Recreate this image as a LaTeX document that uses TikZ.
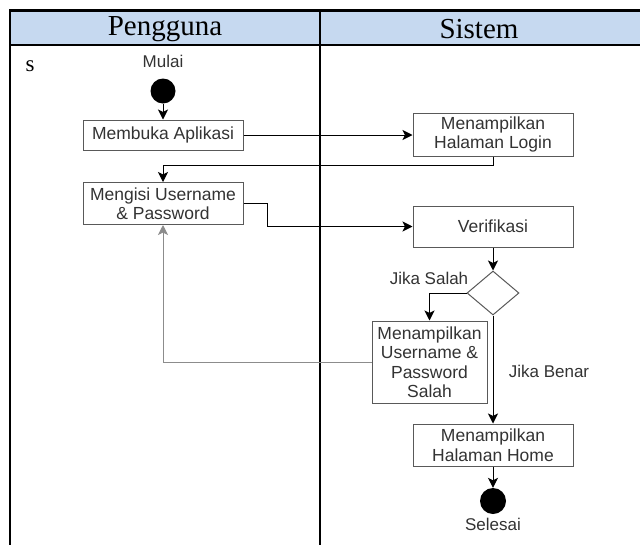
\documentclass[tikz,border=0pt]{standalone}
\usepackage{fontspec}
\setmainfont{Liberation Serif}
\setsansfont{Liberation Sans}
\usetikzlibrary{arrows.meta, shapes.geometric}
\definecolor{kepala}{HTML}{C6D9F0}

\begin{document}
\begin{tikzpicture}[x=1pt, y=-1pt,
        aksi/.style={draw=black!65, line width=1pt, fill=white, align=center,
            inner sep=0pt, text=black!80, font=\sffamily\fontsize{17.5}{19.5}\selectfont},
        keputusan/.style={diamond, draw=black!65, line width=1pt, fill=white,
            inner sep=0pt, minimum width=52pt, minimum height=44pt},
        titik/.style={circle, fill=black, inner sep=0pt, minimum size=25pt},
        label/.style={text=black!80, font=\sffamily\fontsize{17}{19.5}\selectfont},
        alur/.style={line width=1pt, -{Stealth[length=10pt, width=10pt, inset=2.5pt]}},
        kembali/.style={alur, draw=black!45}]
    \useasboundingbox (0,0) rectangle (640,544);

    % Draw the swimlane table (runs off the right and bottom edge)
    \fill[kepala] (10,10) rectangle (645,45);
    \draw[line width=2.5pt] (10,10.5) -- (645,10.5);
    \draw[line width=2.5pt] (10,9.25) -- (10,550);
    \draw[line width=2pt] (10,45) -- (645,45);
    \draw[line width=2pt] (320,10) -- (320,550);
    \node[font=\fontsize{29}{30}\selectfont] (lajur1) at (165,29) {Pengguna};
    \node[font=\fontsize{29}{30}\selectfont] (lajur2) at (479,29) {Sistem};
    \node[font=\fontsize{23}{24}\selectfont] (huruf) at (30,66) {s};

    % Start point
    \node[label] (mulaiteks) at (163,61) {Mulai};
    \node[titik] (mulai) at (163,91) {};

    % Activities of the user
    \node[aksi, minimum width=160pt, minimum height=30pt] (membuka) at (163,135) {Membuka Aplikasi};
    \node[aksi, minimum width=160pt, minimum height=42pt] (mengisi) at (163,203.5) {Mengisi Username\\\& Password};

    % Activities of the system
    \node[aksi, minimum width=160pt, minimum height=43pt] (login) at (493,134.5) {Menampilkan\\Halaman Login};
    \node[aksi, minimum width=160pt, minimum height=41pt] (verifikasi) at (493,226.5) {Verifikasi};
    \node[keputusan] (cek) at (493,293) {};
    \node[aksi, minimum width=115pt, minimum height=82pt] (salah) at (429.5,362) {Menampilkan\\Username \&\\Password\\Salah};
    \node[aksi, minimum width=160pt, minimum height=42pt] (home) at (493,445) {Menampilkan\\Halaman Home};

    % End point
    \node[titik, minimum size=26pt] (selesai) at (493,501) {};
    \node[label] (selesaiteks) at (493,524) {Selesai};

    % Guard labels
    \node[label] (jikasalah) at (429,278) {Jika Salah};
    \node[label] (jikabenar) at (549,371) {Jika Benar};

    % Flow
    \draw[alur] (mulai) -- (membuka);
    \draw[alur] (membuka.east) -- (membuka.east -| login.west);
    \draw[alur] (login.south) -- ++(0,9) -| (mengisi.north);
    \draw[alur] (mengisi.east) -- ++(24,0) |- (verifikasi.west);
    \draw[alur] (verifikasi) -- (cek);
    \draw[alur] (cek.west) -| (salah.north);
    \draw[kembali] (salah.west) -| (mengisi.south);
    \draw[alur] (cek) -- (home);
    \draw[alur] (home) -- (selesai);
\end{tikzpicture}
\end{document}
